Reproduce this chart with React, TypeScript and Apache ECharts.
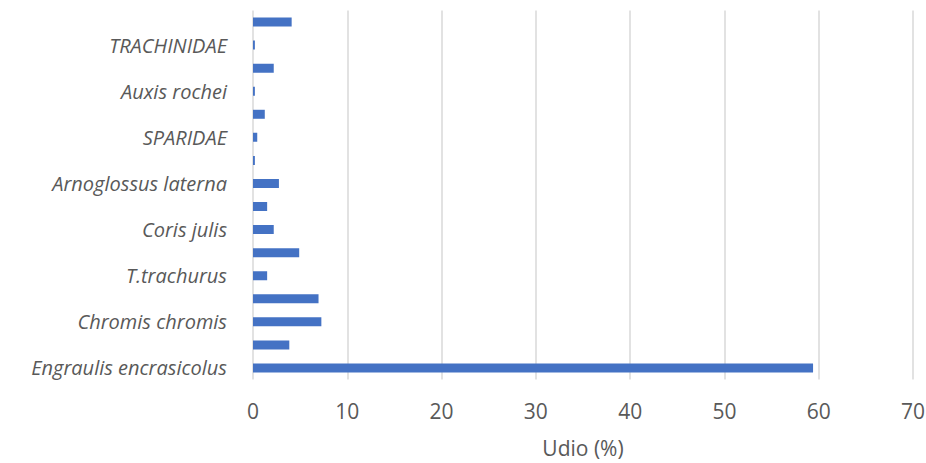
import React, { useEffect, useRef } from "react";
import * as echarts from "echarts";

const categories = [
  "Engraulis encrasicolus",
  "sp. 2",
  "Chromis chromis",
  "sp. 4",
  "T.trachurus",
  "sp. 6",
  "Coris julis",
  "sp. 8",
  "Arnoglossus laterna",
  "sp. 10",
  "SPARIDAE",
  "sp. 12",
  "Auxis rochei",
  "sp. 14",
  "TRACHINIDAE",
  "sp. 16",
];

const values = [59.4, 3.85, 7.25, 6.95, 1.5, 4.9, 2.2, 1.5, 2.75, 0.2, 0.45, 1.25, 0.2, 2.2, 0.2, 4.1];

const xTicks = { min: 0, max: 70, interval: 10 };
const axisName = "Udio (%)";

export default function App() {
  const ref = useRef<HTMLDivElement>(null);
  useEffect(() => {
    if (!ref.current) return;
    const chart = echarts.init(ref.current, null, { renderer: "svg" });
    chart.setOption({
      animation: false,
      textStyle: { fontFamily: "Open Sans" },
      grid: {
        left: 253,
        right: 13,
        top: 10.5,
        bottom: 83.5,
        containLabel: false,
        outerBoundsMode: "none",
      },
      xAxis: {
        type: "value",
        min: xTicks.min,
        max: xTicks.max,
        interval: xTicks.interval,
        name: axisName,
        nameLocation: "middle",
        nameGap: 58,
        nameTextStyle: { color: "#595959", fontSize: 21, fontFamily: "Open Sans" },
        axisLine: { show: false },
        axisTick: { show: false },
        axisLabel: { color: "#595959", fontSize: 21, margin: 21, fontFamily: "Open Sans" },
        splitLine: { show: true, lineStyle: { color: "#d9d9d9", width: 1.5 } },
      },
      yAxis: {
        type: "category",
        data: categories,
        axisLine: { show: false },
        axisTick: { show: false },
        splitLine: { show: false },
        axisLabel: {
          interval: 1,
          color: "#595959",
          fontSize: 20,
          fontStyle: "italic",
          fontFamily: "Open Sans",
          margin: 26,
        },
      },
      series: [
        {
          type: "bar",
          data: values,
          barWidth: 9,
          itemStyle: { color: "#4472C4" },
        },
      ],
    });
    return () => chart.dispose();
  }, []);
  return (
    <div
      ref={ref}
      style={{ position: "absolute", left: 0, top: 0, width: 926, height: 463, background: "#fff" }}
    />
  );
}
